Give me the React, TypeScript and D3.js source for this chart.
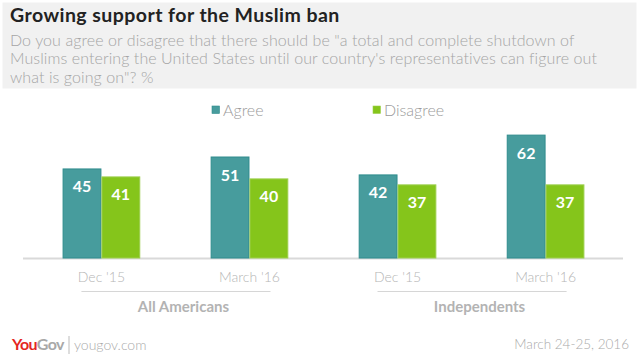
import React, { useEffect, useRef } from 'react';
import * as d3 from 'd3';

const categories = ["Dec '15", "March '16", "Dec '15 ", "March '16 "];
const tickLabels = ["Dec '15", "March '16", "Dec '15", "March '16"];
const seriesNames = ['Agree', 'Disagree'];
const agree = [45, 51, 42, 62];
const disagree = [41, 40, 37, 37];
const groups = ['All Americans', 'Independents'];
const groupMembers = [[0, 1], [2, 3]];

const title = 'Growing support for the Muslim ban';
const subtitle = [
  'Do you agree or disagree that there should be "a total and complete shutdown of',
  "Muslims entering the United States until our country's representatives can figure out",
  'what is going on"? %',
];

const W = 640;
const H = 359;
const font = 'Lato, "Open Sans", sans-serif';
const colors = ['#479c9d', '#85c51b'];
const strokes = ['#2f8c8d', '#9ccf4c'];

const App: React.FC = () => {
  const ref = useRef<SVGSVGElement | null>(null);

  useEffect(() => {
    document.body.style.margin = '0';
    if (!ref.current) return;
    const svg = d3.select(ref.current);
    svg.selectAll('*').remove();

    // header
    svg.append('rect').attr('x', 2.5).attr('y', 2.5).attr('width', 634).attr('height', 86).attr('fill', '#f1f1f1');
    svg.append('text').attr('x', 10).attr('y', 22).attr('font-family', font).attr('font-size', 19.5)
      .attr('letter-spacing', 0.45).attr('font-weight', 'bold').attr('fill', '#222').text(title);
    svg.selectAll('text.sub').data(subtitle).enter().append('text').attr('class', 'sub')
      .attr('x', 10).attr('y', (_d, i) => 45.5 + i * 18.5).attr('font-family', font).attr('font-size', 16)
      .attr('letter-spacing', 0.08).attr('font-weight', 300).attr('fill', '#a5a5a5').text((d) => d);

    const x = d3.scaleBand<string>().domain(categories).range([23.5, 623.5]).paddingInner(71 / 150 + 0.002).paddingOuter(0.264);
    const x1 = d3.scaleBand<string>().domain(seriesNames).range([0, x.bandwidth()]);
    const y = d3.scaleLinear().domain([0, 100]).range([258, 59]);

    // axis line
    svg.append('line').attr('x1', 23).attr('x2', 623).attr('y1', 258.5).attr('y2', 258.5)
      .attr('stroke', '#d9d9d9').attr('stroke-width', 2);

    const rows = categories.map((c, i) => ({ c, vals: [agree[i], disagree[i]] }));
    const g = svg.selectAll('g.cat').data(rows).enter().append('g').attr('class', 'cat')
      .attr('transform', (d) => `translate(${x(d.c)},0)`);
    const bars = g.selectAll('g.bar').data((d) => d.vals.map((v, k) => ({ v, k }))).enter().append('g');
    bars.append('rect')
      .attr('x', (d) => (x1(seriesNames[d.k]) as number) + 0.5)
      .attr('y', (d) => y(d.v) + 0.5)
      .attr('width', x1.bandwidth() - 1)
      .attr('height', (d) => y(0) - y(d.v) - 0.5)
      .attr('fill', (d) => colors[d.k])
      .attr('stroke', (d) => strokes[d.k]);
    bars.append('text')
      .attr('x', (d) => (x1(seriesNames[d.k]) as number) + x1.bandwidth() / 2)
      .attr('y', (d) => y(d.v) + 24)
      .attr('text-anchor', 'middle').attr('font-family', font).attr('font-size', 16)
      .attr('font-weight', 'bold').attr('fill', '#fff').text((d) => d.v);

    // legend
    const legendX = [212, 373];
    const leg = svg.selectAll('g.leg').data(seriesNames).enter().append('g').attr('class', 'leg')
      .attr('transform', (_d, i) => `translate(${legendX[i]},106)`);
    leg.append('rect').attr('width', 7.5).attr('height', 7.5).attr('fill', (_d, i) => colors[i])
      .attr('stroke', (_d, i) => strokes[i]).attr('stroke-width', 0.6);
    leg.append('text').attr('x', 11).attr('y', 9.5).attr('font-family', font).attr('font-size', 16)
      .attr('font-weight', 300).attr('fill', '#9a9a9a').text((d) => d);

    // category ticks
    svg.selectAll('text.tick').data(categories).enter().append('text').attr('class', 'tick')
      .attr('x', (d) => (x(d) as number) + x.bandwidth() / 2).attr('y', 281.5)
      .attr('text-anchor', 'middle').attr('font-family', font).attr('font-size', 14)
      .attr('font-weight', 300).attr('fill', '#b5b5b5').text((_d, i) => tickLabels[i]);

    // group lines and labels
    const center = (i: number) => (x(categories[i]) as number) + x.bandwidth() / 2;
    const grp = svg.selectAll('g.grp').data(groups).enter().append('g').attr('class', 'grp');
    grp.append('line')
      .attr('x1', (_d, i) => center(groupMembers[i][0]) - 20)
      .attr('x2', (_d, i) => center(groupMembers[i][1]) + 21)
      .attr('y1', 291.5).attr('y2', 291.5).attr('stroke', '#d6d6d6').attr('stroke-width', 1.2);
    grp.append('text')
      .attr('x', (_d, i) => (center(groupMembers[i][0]) + center(groupMembers[i][1])) / 2 + 8)
      .attr('y', 312).attr('text-anchor', 'middle').attr('font-family', font).attr('font-size', 15)
      .attr('font-weight', 'bold').attr('fill', '#b3b3b3').text((d) => d);

    // footer
    const logo = svg.append('text').attr('x', 12).attr('y', 350).attr('font-family', font).attr('font-size', 16)
      .attr('font-weight', 'bold').attr('letter-spacing', -0.6);
    logo.append('tspan').attr('fill', '#e4261f').text('You');
    logo.append('tspan').attr('fill', '#a8a8a8').text('Gov');
    svg.append('line').attr('x1', 69).attr('x2', 69).attr('y1', 336).attr('y2', 354).attr('stroke', '#bbb');
    svg.append('text').attr('x', 74).attr('y', 350).attr('font-family', font).attr('font-size', 14)
      .attr('font-weight', 300).attr('fill', '#aaa').text('yougov.com');
    svg.append('text').attr('x', 629).attr('y', 349).attr('text-anchor', 'end').attr('font-family', font)
      .attr('font-size', 13.5).attr('font-weight', 300).attr('fill', '#aaa').text('March 24-25, 2016');
  }, []);

  return <svg ref={ref} width={W} height={H} style={{ display: 'block', background: '#fff' }} />;
};

export default App;
